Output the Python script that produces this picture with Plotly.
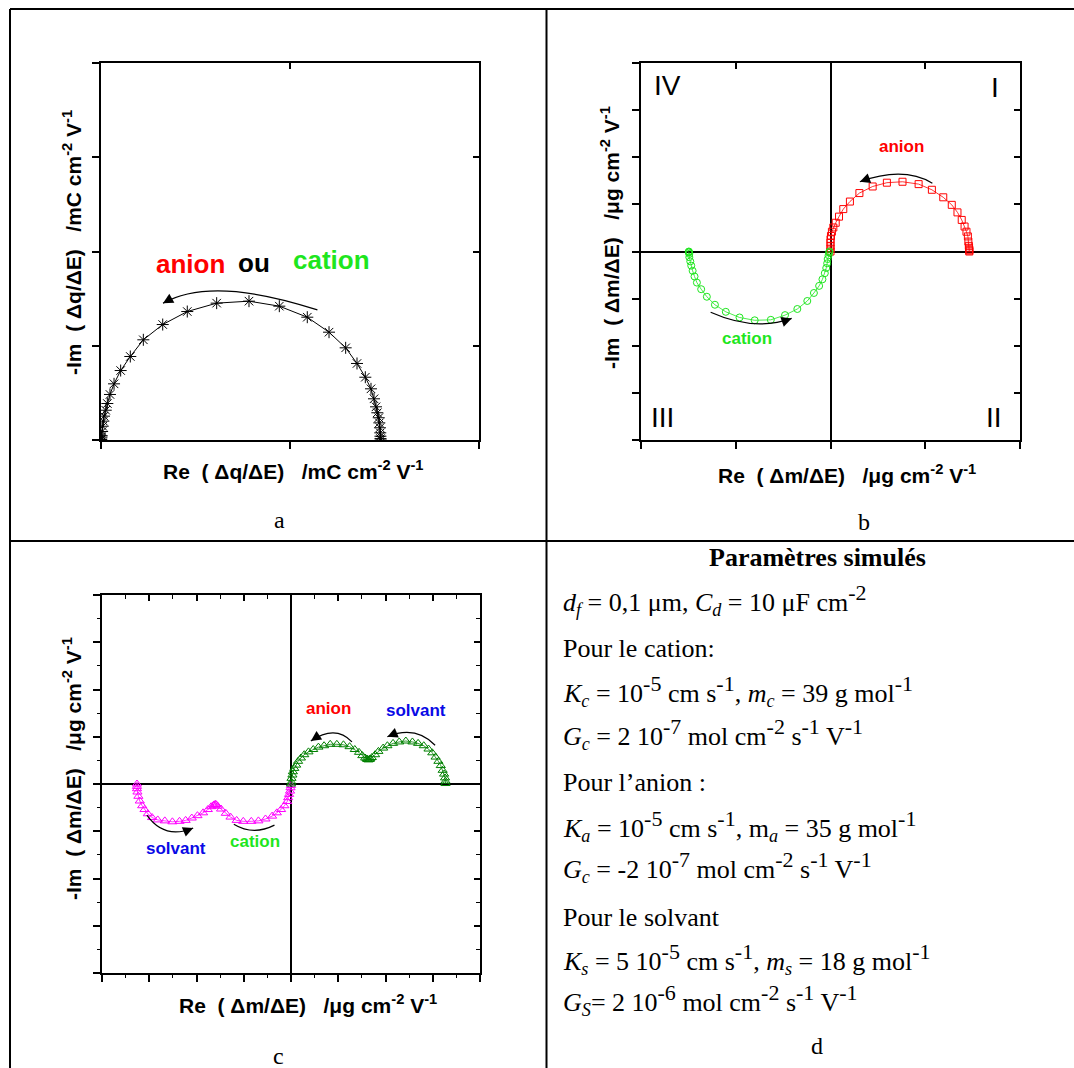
import plotly.graph_objects as go

W, H = 1074, 1068

# panel a : charge response, one semicircle (asterisks)
a_re = [0.0, 0.001, 0.003, 0.005, 0.008, 0.012, 0.018, 0.025, 0.032, 0.05, 0.067, 0.095,
        0.138, 0.208, 0.31, 0.448, 0.653, 0.913, 1.224, 1.566, 1.887, 2.183, 2.413, 2.589,
        2.709, 2.797, 2.857, 2.889, 2.91, 2.924, 2.939, 2.945, 2.952, 2.955, 2.957, 2.958, 2.96]
a_im = [0.0, 0.005, 0.01, 0.03, 0.045, 0.09, 0.146, 0.2, 0.253, 0.316, 0.387, 0.483,
        0.596, 0.737, 0.886, 1.063, 1.225, 1.363, 1.452, 1.473, 1.42, 1.303, 1.144, 0.978,
        0.812, 0.666, 0.543, 0.437, 0.352, 0.289, 0.236, 0.182, 0.13, 0.076, 0.04, 0.015, 0.0]

# panel b : mass response, anion (squares) and cation (circles)
b_anion_re = [0.0, 0.0, 0.0, 0.0, 0.0, 0.01, 0.03, 0.06, 0.11, 0.18, 0.27, 0.41, 0.61, 0.89,
              1.19, 1.52, 1.86, 2.14, 2.38, 2.56, 2.68, 2.77, 2.83, 2.87, 2.90, 2.91, 2.92,
              2.925, 2.93, 2.93, 2.93]
b_anion_im = [0.0, 0.06, 0.12, 0.19, 0.26, 0.33, 0.42, 0.51, 0.61, 0.74, 0.90, 1.06, 1.24, 1.38,
              1.46, 1.48, 1.43, 1.31, 1.15, 0.99, 0.83, 0.67, 0.53, 0.42, 0.32, 0.21, 0.12,
              0.08, 0.04, 0.02, 0.0]
b_cation_re = [-2.99, -2.99, -2.99, -2.98, -2.98, -2.96, -2.94, -2.91, -2.87, -2.82, -2.73, -2.61,
               -2.44, -2.21, -1.92, -1.60, -1.26, -0.96, -0.70, -0.49, -0.35, -0.24, -0.17,
               -0.12, -0.09, -0.07, -0.06, -0.04, -0.03, -0.02]
b_cation_im = [0.0, -0.01, -0.02, -0.05, -0.12, -0.21, -0.30, -0.41, -0.53, -0.66, -0.80, -0.96,
               -1.13, -1.28, -1.40, -1.46, -1.45, -1.35, -1.22, -1.05, -0.88, -0.73, -0.59,
               -0.46, -0.35, -0.25, -0.16, -0.08, -0.02, 0.0]

# panel c : cation + solvant (magenta) and anion + solvant (green)
c_neg_re = [-3.26, -3.26, -3.26, -3.25, -3.23, -3.20, -3.15, -3.10, -3.03, -2.94, -2.82, -2.67,
            -2.51, -2.36, -2.23, -2.10, -1.98, -1.86, -1.76, -1.69, -1.64, -1.62, -1.60, -1.58,
            -1.55, -1.48, -1.38, -1.28, -1.15, -1.01, -0.84, -0.69, -0.54, -0.40, -0.30, -0.21,
            -0.14, -0.08, -0.06, -0.04, -0.02, -0.01, 0.0]
c_neg_im = [0.0, -0.05, -0.10, -0.17, -0.26, -0.36, -0.46, -0.54, -0.63, -0.71, -0.76, -0.78,
            -0.80, -0.79, -0.77, -0.72, -0.67, -0.61, -0.54, -0.48, -0.45, -0.44, -0.43, -0.44,
            -0.47, -0.53, -0.62, -0.70, -0.77, -0.79, -0.79, -0.78, -0.74, -0.68, -0.61, -0.54,
            -0.46, -0.37, -0.29, -0.22, -0.15, -0.08, -0.03]
c_pos_re = [0.0, 0.01, 0.01, 0.03, 0.04, 0.07, 0.11, 0.15, 0.21, 0.28, 0.37, 0.47, 0.58, 0.70,
            0.83, 0.97, 1.11, 1.24, 1.35, 1.44, 1.51, 1.57, 1.60, 1.62, 1.64, 1.66, 1.68, 1.71,
            1.78, 1.85, 1.95, 2.04, 2.16, 2.29, 2.43, 2.57, 2.69, 2.81, 2.91, 2.99, 3.06, 3.12,
            3.17, 3.21, 3.24, 3.26, 3.27, 3.27]
c_pos_im = [0.0, 0.04, 0.12, 0.19, 0.26, 0.33, 0.40, 0.48, 0.55, 0.62, 0.68, 0.73, 0.78, 0.81,
            0.84, 0.84, 0.83, 0.79, 0.73, 0.67, 0.60, 0.55, 0.53, 0.52, 0.51, 0.52, 0.53, 0.56,
            0.62, 0.69, 0.76, 0.81, 0.86, 0.89, 0.91, 0.89, 0.86, 0.81, 0.74, 0.66, 0.57, 0.48,
            0.39, 0.29, 0.21, 0.13, 0.06, 0.01]

# panel d : simulation parameters
d_title = "Paramètres simulés"
d_lines = [
    "<i>d<sub>f</sub></i> = 0,1 μm, <i>C<sub>d</sub></i> = 10 μF cm<sup>-2</sup>",
    "Pour le cation:",
    "<i>K<sub>c</sub></i> = 10<sup>-5</sup> cm s<sup>-1</sup>, <i>m<sub>c</sub></i> = 39 g mol<sup>-1</sup>",
    "<i>G<sub>c</sub></i> = 2 10<sup>-7</sup> mol cm<sup>-2</sup> s<sup>-1</sup> V<sup>-1</sup>",
    "Pour l’anion :",
    "<i>K<sub>a</sub></i> = 10<sup>-5</sup> cm s<sup>-1</sup>, m<sub><i>a</i></sub> = 35 g mol<sup>-1</sup>",
    "<i>G<sub>c</sub></i> = -2 10<sup>-7</sup> mol cm<sup>-2</sup> s<sup>-1</sup> V<sup>-1</sup>",
    "Pour le solvant",
    "<i>K<sub>s</sub></i> = 5 10<sup>-5</sup> cm s<sup>-1</sup>, <i>m<sub>s</sub></i> = 18 g mol<sup>-1</sup>",
    "<i>G<sub>S</sub></i>= 2 10<sup>-6</sup> mol cm<sup>-2</sup> s<sup>-1</sup> V<sup>-1</sup>",
]
d_line_y = [600, 648, 691, 734, 782, 826, 867, 917, 959, 1000]

SANS = "Liberation Sans, Arial, sans-serif"
SERIF = "Liberation Serif, Times New Roman, serif"
NB = "\u00a0"

RED = "#ff0000"
LIME = "#1ee61e"
BLUE = "#0a0ae6"
MAGENTA = "#ff00ff"
DKGREEN = "#008000"


def px(x):
    return x / W


def py(y):
    return 1 - y / H


def key(axis, n):
    return axis + ("axis" if n == 1 else f"axis{n}")


def ref(axis, n):
    return axis if n == 1 else f"{axis}{n}"


def big_sup(txt, size=22):
    # the scanned table uses larger exponents than plotly's default 70 %
    return (txt.replace("<sup>", f'<sup><span style="font-size:{size}px">')
               .replace("</sup>", "</span></sup>"))


fig = go.Figure()


def frame(n, ov, xpix, ypix, xr, yr, xdt, ydt, minor=False, zero=False):
    xdom = [px(xpix[0]), px(xpix[1])]
    ydom = [py(ypix[1]), py(ypix[0])]
    common = dict(showgrid=False, showticklabels=False, fixedrange=True,
                  tickwidth=1.5, tickcolor="black", tickmode="linear")

    def mn(dt, where, ln):
        if not minor:
            return None
        return dict(ticks=where, ticklen=ln, dtick=dt / 2, tick0=0,
                    tickwidth=1.2, tickcolor="black", showgrid=False)

    fig.update_layout(**{
        key("x", n): dict(domain=xdom, range=xr, anchor=ref("y", n), dtick=xdt, tick0=xr[0],
                          ticks="outside", ticklen=7, showline=True, linewidth=2,
                          linecolor="black", mirror=True, zeroline=zero,
                          zerolinecolor="black", zerolinewidth=1.6,
                          minor=mn(xdt, "outside", 3), **common),
        key("y", n): dict(domain=ydom, range=yr, anchor=ref("x", n), dtick=ydt, tick0=yr[0],
                          ticks="outside", ticklen=7, showline=True, linewidth=2,
                          linecolor="black", mirror=True, zeroline=zero,
                          zerolinecolor="black", zerolinewidth=1.6,
                          minor=mn(ydt, "outside", 3), **common),
        key("x", ov): dict(overlaying=ref("x", n), side="top", anchor=ref("y", n), range=xr,
                           dtick=xdt, tick0=xr[0], ticks="inside", ticklen=6,
                           showline=False, zeroline=False,
                           minor=mn(xdt, "inside", 4), **common),
        key("y", ov): dict(overlaying=ref("y", n), side="right", anchor=ref("x", n), range=yr,
                           dtick=ydt, tick0=yr[0], ticks="inside", ticklen=6,
                           showline=False, zeroline=False,
                           minor=mn(ydt, "inside", 4), **common),
    })
    fig.add_trace(go.Scatter(x=[], y=[], xaxis=ref("x", ov), yaxis=ref("y", n),
                             showlegend=False, hoverinfo="skip"))
    fig.add_trace(go.Scatter(x=[], y=[], xaxis=ref("x", n), yaxis=ref("y", ov),
                             showlegend=False, hoverinfo="skip"))


def series(n, xs, ys, symbol, color, size, lw=0.8):
    fig.add_trace(go.Scatter(
        x=xs, y=ys, xaxis=ref("x", n), yaxis=ref("y", n), mode="lines+markers",
        line=dict(color=color, width=lw),
        marker=dict(symbol=symbol, size=size, color=color, line=dict(color=color, width=1)),
        showlegend=False, hoverinfo="skip",
    ))


def curved_arrow(n, p0, c, p2):
    xa, ya = ref("x", n), ref("y", n)
    fig.add_shape(type="path", xref=xa, yref=ya,
                  path=f"M {p0[0]},{p0[1]} Q {c[0]},{c[1]} {p2[0]},{p2[1]}",
                  line=dict(color="black", width=1.2))
    tail = (p2[0] + 0.15 * (c[0] - p2[0]), p2[1] + 0.15 * (c[1] - p2[1]))
    fig.add_annotation(x=p2[0], y=p2[1], ax=tail[0], ay=tail[1], xref=xa, yref=ya,
                       axref=xa, ayref=ya, text="", showarrow=True, arrowhead=2,
                       arrowsize=1.7, arrowwidth=1.2, arrowcolor="black", standoff=0)


def label(text, x, y, size, color="black", family=SANS, angle=0, xanchor="center"):
    fig.add_annotation(text=text, x=px(x), y=py(y), xref="paper", yref="paper",
                       showarrow=False, textangle=angle, xanchor=xanchor, yanchor="middle",
                       font=dict(family=family, size=size, color=color))


# --- panel a
frame(1, 4, (101, 479), (63, 440), [0, 4], [0, 4], 2, 1)
series(1, a_re, a_im, "asterisk-open", "black", 10, lw=1)
curved_arrow(1, (2.29, 1.38), (1.17, 1.745), (0.656, 1.45))

# --- panel b
frame(2, 5, (641, 1020), (63, 440), [-4, 4], [-4, 4], 2, 1, zero=True)
series(2, b_anion_re, b_anion_im, "square-open", RED, 7)
series(2, b_cation_re, b_cation_im, "circle-open", LIME, 7)
curved_arrow(2, (2.15, 1.45), (1.535, 1.815), (0.62, 1.48))
curved_arrow(2, (-2.53, -1.29), (-1.605, -1.705), (-0.82, -1.42))

# --- panel c
frame(3, 6, (102, 480), (595, 973), [-4, 4], [-4, 4], 1, 1, minor=True, zero=True)
series(3, c_neg_re, c_neg_im, "triangle-up-open", MAGENTA, 8)
series(3, c_pos_re, c_pos_im, "triangle-up-open", DKGREEN, 8)
curved_arrow(3, (-3.05, -0.66), (-2.68, -1.185), (-2.07, -0.93))
curved_arrow(3, (-1.21, -0.85), (-0.80, -1.10), (-0.35, -0.87))
curved_arrow(3, (1.29, 0.89), (0.945, 1.26), (0.42, 0.91))
curved_arrow(3, (3.05, 0.82), (2.635, 1.25), (2.04, 1.00))

# axis titles
ytit_q = f"<b>-Im{NB}{NB}({NB}Δq/ΔE){NB}{NB}{NB}/mC{NB}cm<sup>-2</sup>{NB}V<sup>-1</sup></b>"
xtit_q = f"<b>Re{NB}{NB}({NB}Δq/ΔE){NB}{NB}{NB}/mC{NB}cm<sup>-2</sup>{NB}V<sup>-1</sup></b>"
ytit_m = f"<b>-Im{NB}{NB}({NB}Δm/ΔE){NB}{NB}{NB}/μg{NB}cm<sup>-2</sup>{NB}V<sup>-1</sup></b>"
xtit_m = f"<b>Re{NB}{NB}({NB}Δm/ΔE){NB}{NB}{NB}/μg{NB}cm<sup>-2</sup>{NB}V<sup>-1</sup></b>"
label(ytit_q, 72, 243, 21, angle=-90)
label(xtit_q, 293, 470, 21)
label(ytit_m, 610, 238, 21, angle=-90)
label(xtit_m, 847, 474, 21)
label(ytit_m, 72, 769, 21, angle=-90)
label(xtit_m, 308, 1004, 21)

# in-plot labels
label("<b>anion</b>", 190, 264, 26, RED)
label("<b>ou</b>", 254, 263, 26)
label("<b>cation</b>", 331, 260, 26, LIME)
label("<b>anion</b>", 902, 147, 17, RED)
label("<b>cation</b>", 747, 339, 17, LIME)
label("IV", 667, 86, 28)
label("I", 995, 87, 28)
label("III", 662, 417, 28)
label("II", 994, 417, 28)
label("<b>anion</b>", 328, 708, 17, RED)
label("<b>solvant</b>", 416, 710, 17, BLUE)
label("<b>solvant</b>", 176, 848, 17, BLUE)
label("<b>cation</b>", 255, 841, 17, LIME)

# panel letters
label("a", 279, 520, 24, family=SERIF)
label("b", 864, 522, 24, family=SERIF)
label("c", 278, 1056, 24, family=SERIF)
label("d", 817, 1046, 24, family=SERIF)

# panel d text
label(f"<b>{d_title}</b>", 817, 557, 26, family=SERIF)
for txt, yy in zip(d_lines, d_line_y):
    label(big_sup(txt), 561, yy, 26, family=SERIF, xanchor="left")

# table borders
for x0, y0, x1, y1 in [(10, 9, 1074, 9), (10, 9, 10, 1068),
                       (546.5, 9, 546.5, 1068), (10, 541, 1074, 541)]:
    fig.add_shape(type="line", xref="paper", yref="paper",
                  x0=px(x0), y0=py(y0), x1=px(x1), y1=py(y1),
                  line=dict(color="black", width=2))

fig.update_layout(
    width=W, height=H, margin=dict(l=0, r=0, t=0, b=0),
    paper_bgcolor="white", plot_bgcolor="white", showlegend=False,
)

# page body has a default 8px margin, drop it so the figure sits at the window corner
fig.write_html("out.html", config={"displayModeBar": False},
               post_script="document.body.style.margin = '0px';")
